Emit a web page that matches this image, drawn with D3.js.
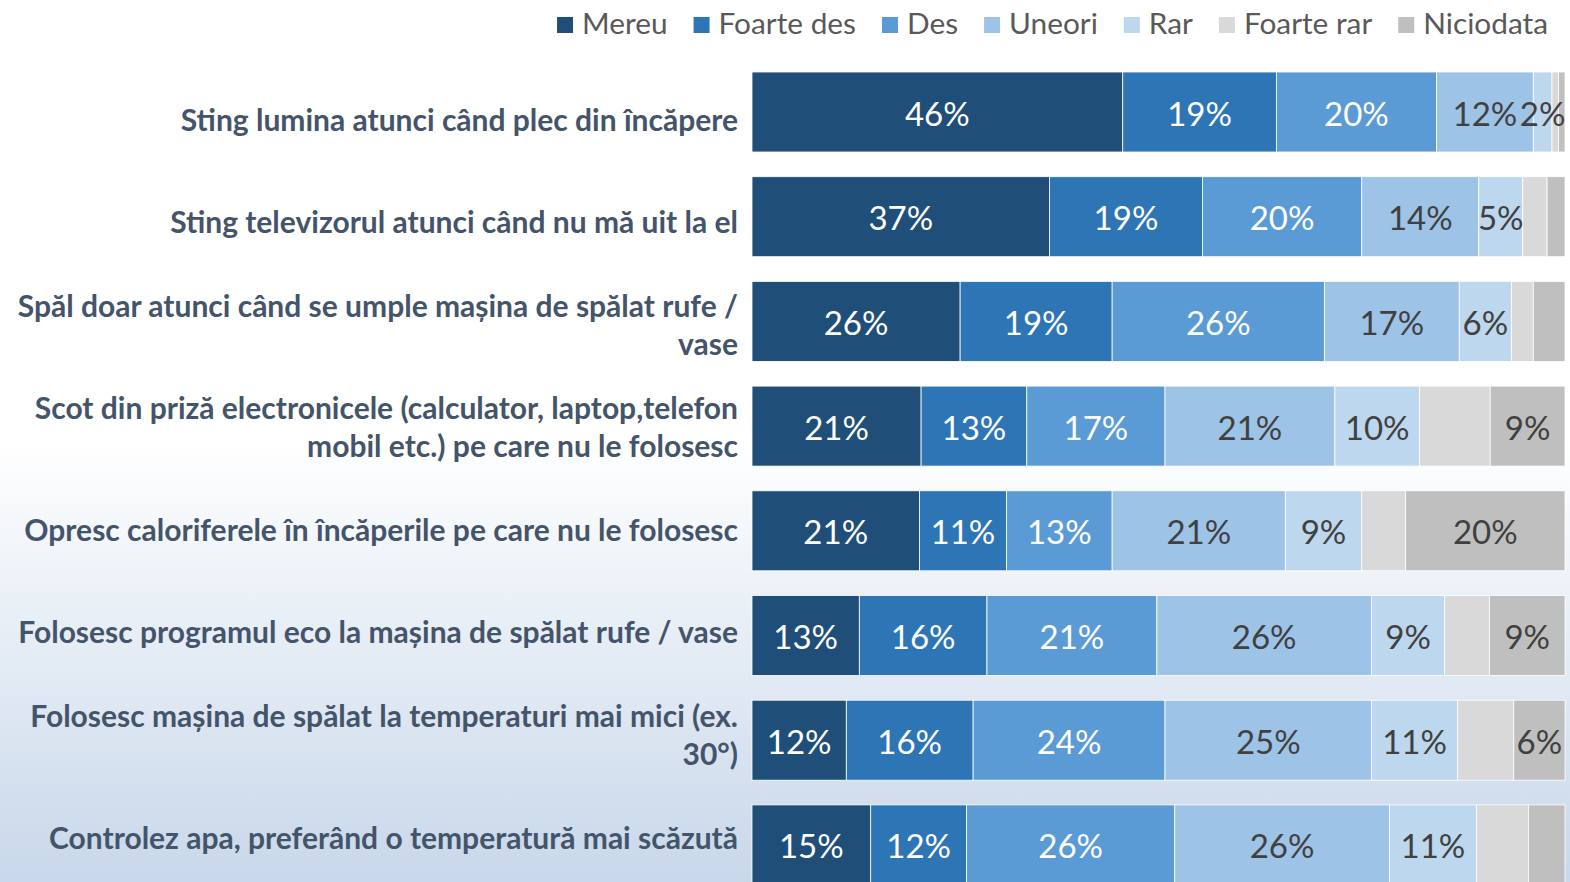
<!DOCTYPE html>
<html><head><meta charset="utf-8">
<script src="https://cdn.jsdelivr.net/npm/d3@7"></script>
<style>html,body{margin:0;padding:0;background:#fff;}svg{display:block;}</style>
</head><body>
<svg id="chart" width="1570" height="882"></svg>
<script>
const categories = [
  ["Sting lumina atunci când plec din încăpere"],
  ["Sting televizorul atunci când nu mă uit la el"],
  ["Spăl doar atunci când se umple mașina de spălat rufe /", "vase"],
  ["Scot din priză electronicele (calculator, laptop,telefon", "mobil etc.) pe care nu le folosesc"],
  ["Opresc caloriferele în încăperile pe care nu le folosesc"],
  ["Folosesc programul eco la mașina de spălat rufe / vase"],
  ["Folosesc mașina de spălat la temperaturi mai mici (ex.", "30°)"],
  ["Controlez apa, preferând o temperatură mai scăzută"]
];
const seriesNames = ["Mereu", "Foarte des", "Des", "Uneori", "Rar", "Foarte rar", "Niciodata"];
const mereu     = [45.6, 36.6, 25.6, 20.8, 20.6, 13.2, 11.6, 14.6];
const foarteDes = [18.9, 18.8, 18.7, 13.0, 10.7, 15.7, 15.6, 11.8];
const des       = [19.7, 19.6, 26.1, 17.0, 13.0, 20.9, 23.6, 25.6];
const uneori    = [11.9, 14.4, 16.6, 20.9, 21.3, 26.4, 25.4, 26.4];
const rar       = [2.3, 5.4, 6.4, 10.4, 9.4, 9.0, 10.6, 10.7];
const foarteRar = [0.8, 3.0, 2.7, 8.7, 5.4, 5.5, 6.9, 6.4];
const niciodata = [0.8, 2.2, 3.9, 9.2, 19.6, 9.3, 6.3, 4.5];
const colors = ["#1F4E79", "#2E75B6", "#5B9BD5", "#9DC3E6", "#BDD7EE", "#D9D9D9", "#BFBFBF"];
const labelColors = ["#ffffff", "#ffffff", "#ffffff", "#404040", "#404040", "#404040", "#404040"];
const hiddenLabelSeries = ["Foarte rar"];

const seriesValues = [mereu, foarteDes, des, uneori, rar, foarteRar, niciodata];
const rows = categories.map((c, i) => {
  const o = {idx: i};
  seriesNames.forEach((s, j) => o[s] = seriesValues[j][i]);
  return o;
});

const svg = d3.select("#chart");
const W = 1570, H = 882;

// background gradient
const defs = svg.append("defs");
const grad = defs.append("linearGradient").attr("id", "bg").attr("x1", 0).attr("y1", 0).attr("x2", 0).attr("y2", 1);
grad.append("stop").attr("offset", "0%").attr("stop-color", "#ffffff");
grad.append("stop").attr("offset", "50%").attr("stop-color", "#ffffff");
grad.append("stop").attr("offset", "100%").attr("stop-color", "#C8D7EA");
svg.append("rect").attr("width", W).attr("height", H).attr("fill", "url(#bg)");

const x = d3.scaleLinear().domain([0, 100]).range([752, 1565]);
const y = d3.scaleBand().domain(d3.range(categories.length))
  .range([59.65, 59.65 + 8 * 104.7]).paddingInner(0.236).paddingOuter(0.118);
const yLabel = d3.scalePoint().domain(d3.range(categories.length)).range([120, 838]);

const stack = d3.stack().keys(seriesNames);
const stacked = stack(rows);

const barsG = svg.append("g");
const labelsG = svg.append("g");
stacked.forEach((layer, si) => {
  barsG.append("g").selectAll("rect").data(layer).join("rect")
    .attr("x", d => x(d[0]))
    .attr("y", d => y(d.data.idx))
    .attr("width", d => x(d[1]) - x(d[0]))
    .attr("height", y.bandwidth())
    .attr("fill", colors[si])
    .attr("stroke", "#ffffff")
    .attr("stroke-width", 0.8);
  if (!hiddenLabelSeries.includes(seriesNames[si])) {
    labelsG.append("g").selectAll("text")
      .data(layer.filter(d => (d[1] - d[0]) >= 4.8 || (seriesNames[si] === "Rar" && (d[1] - d[0]) >= 2)))
      .join("text")
      .attr("x", d => (x(d[0]) + x(d[1])) / 2)
      .attr("y", d => y(d.data.idx) + y.bandwidth() / 2)
      .attr("dy", "0.41em")
      .attr("text-anchor", "middle")
      .attr("font-family", "Lato, 'Open Sans', sans-serif")
      .attr("font-size", 33)
      .attr("fill", labelColors[si])
      .text(d => Math.round(d[1] - d[0]) + "%");
  }
});

// category labels
const lineH = 38;
const cat = svg.append("g");
categories.forEach((lines, i) => {
  const cy = yLabel(i);
  const n = lines.length;
  const t = cat.append("text")
    .attr("text-anchor", "end")
    .attr("font-family", "Lato, 'Open Sans', sans-serif")
    .attr("font-weight", "bold")
    .attr("font-size", 30)
    .attr("fill", "#44546A");
  lines.forEach((l, k) => {
    t.append("tspan").attr("x", 738)
      .attr("y", cy + (k - (n - 1) / 2) * lineH)
      .attr("dy", "0.35em")
      .text(l);
  });
});

// legend
const legend = svg.append("g");
let cursor = 1548;
for (let i = seriesNames.length - 1; i >= 0; i--) {
  const t = legend.append("text")
    .attr("font-family", "Lato, 'Open Sans', sans-serif")
    .attr("font-size", 29.8)
    .attr("fill", "#595959")
    .attr("y", 24).attr("dy", "0.35em")
    .text(seriesNames[i]);
  const w = t.node().getComputedTextLength();
  t.attr("x", cursor - w);
  legend.append("rect")
    .attr("x", cursor - w - 25).attr("y", 17)
    .attr("width", 16).attr("height", 16)
    .attr("fill", colors[i]);
  cursor = cursor - w - 25 - 26;
}
</script>
</body></html>
